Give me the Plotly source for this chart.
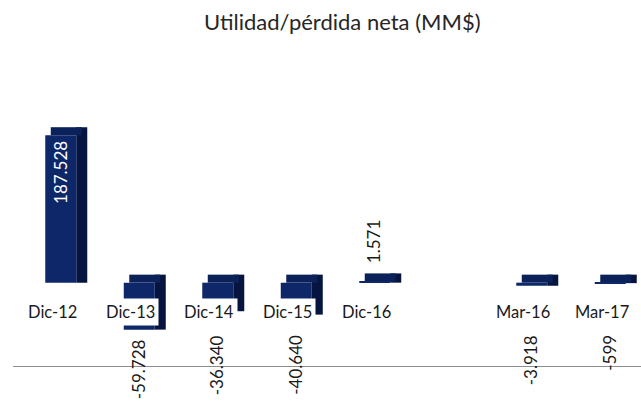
import plotly.graph_objects as go

# ---- data ----
categories = ["Dic-12", "Dic-13", "Dic-14", "Dic-15", "Dic-16", " ", "Mar-16", "Mar-17"]
values = [187.528, -59.728, -36.340, -40.640, 1.571, None, -3.918, -0.599]
value_labels = ["187.528", "-59.728", "-36.340", "-40.640", "1.571", "", "-3.918", "-599"]
title_text = "Utilidad/pérdida neta (MM$)"

# ---- style ----
FRONT = "#0d2769"
TOP = "#0b2159"
SIDE = "#061540"
FONT = "Lato"
Y_RANGE = [-150.5, 283.2]
DEPTH_Y = 10.2          # 3D depth in value units
BAR_OFF, BAR_W = -0.089, 0.395
DEPTH_X = 0.14

xs = [c for c, v in zip(categories, values) if v is not None]
vs = [v for v in values if v is not None]
lbls = [l for l, v in zip(value_labels, values) if v is not None]

fig = go.Figure()
# side face (behind)
fig.add_trace(go.Bar(x=xs, y=[abs(v) + DEPTH_Y for v in vs], base=[min(0, v) for v in vs],
                     marker=dict(color=SIDE, line=dict(width=0)),
                     offset=BAR_OFF + BAR_W, width=DEPTH_X, hoverinfo="skip", showlegend=False))
# top face
fig.add_trace(go.Bar(x=xs, y=[DEPTH_Y for v in vs], base=[max(0, v) for v in vs],
                     marker=dict(color=TOP, line=dict(width=0)),
                     offset=BAR_OFF + DEPTH_X / 2, width=BAR_W, hoverinfo="skip", showlegend=False))
# front face
fig.add_trace(go.Bar(x=xs, y=vs, marker=dict(color=FRONT, line=dict(width=0)),
                     offset=BAR_OFF, width=BAR_W, hoverinfo="skip", showlegend=False))

annotations = []
# category labels with white background
for c, v in zip(categories, values):
    annotations.append(dict(x=c, y=-37, xref="x", yref="y", text=c, showarrow=False,
                            font=dict(family=FONT, size=16.5, color="#1a1a1a"),
                            bgcolor="white" if v is not None else "rgba(0,0,0,0)",
                            borderpad=3, yanchor="middle", xanchor="center"))
# value labels
for c, v, l in zip(xs, vs, lbls):
    if v > 50:
        a = dict(y=v, yanchor="top", yshift=-4, color="white")
    elif v >= 0:
        a = dict(y=v, yanchor="bottom", yshift=16, color="#1a1a1a")
    else:
        a = dict(y=min(v - 10, -64), yanchor="top", yshift=0, color="#1a1a1a")
    annotations.append(dict(x=c, y=a["y"], xref="x", yref="y", text=l, showarrow=False,
                            textangle=-90, xshift=8, yshift=a["yshift"], yanchor=a["yanchor"],
                            xanchor="center", font=dict(family=FONT, size=17, color=a["color"])))

fig.update_layout(
    width=641, height=401,
    margin=dict(l=13, r=0, t=60, b=0),
    paper_bgcolor="white", plot_bgcolor="white",
    barmode="overlay",
    title=dict(text=title_text, x=0.534, xanchor="center", y=0.945, yanchor="middle",
               font=dict(family=FONT, size=22, color="#262626")),
    xaxis=dict(type="category", categoryorder="array", categoryarray=categories,
               range=[-0.5, len(categories) - 0.5],
               showticklabels=False, showgrid=False, zeroline=False, ticks="",
               showline=True, linecolor="#8c8c8c", linewidth=1,
               anchor="free", position=0.1026),
    yaxis=dict(range=Y_RANGE, visible=False, showgrid=False, zeroline=False),
    annotations=annotations,
)

fig.write_html("out.html", config={"displayModeBar": False},
               post_script="document.body.style.margin='0';")
